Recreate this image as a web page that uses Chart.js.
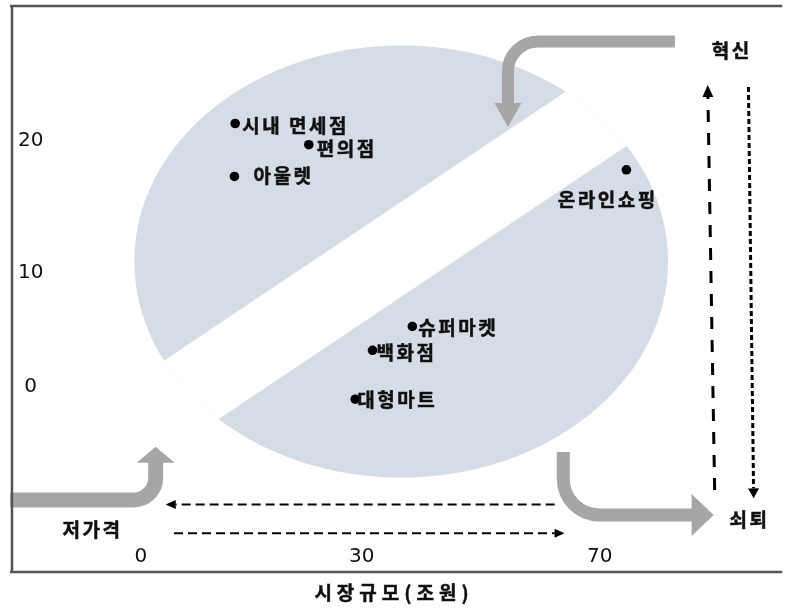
<!DOCTYPE html>
<html>
<head>
<meta charset="utf-8">
<script src="https://cdn.jsdelivr.net/npm/chart.js@4.4.1/dist/chart.umd.min.js"></script>
<style>
  html, body { margin: 0; padding: 0; background: #fff; }
  #wrap { width: 787px; height: 608px; }
</style>
</head>
<body>
<div id="wrap"><canvas id="chart"></canvas></div>
<script>
// retail channels: market size (조원) vs growth
const channels = ['시내 면세점', '편의점', '아울렛', '온라인쇼핑', '슈퍼마켓', '백화점', '대형마트'];
const marketSize = [12.8, 22.8, 12.7, 74.5, 38.5, 31.8, 29.1];
const growth = [21.3, 19.7, 17.3, 17.8, 5.3, 3.2, -1.1];

const xTickValues = [0, 30, 70];
const yTickValues = [0, 10, 20];
const xTitle = '시장규모(조원)';

// annotation shapes, in the same units as the axes
const zoneX = [-0.9, 81.5];
const zoneY = [-8.0, 27.2];
const cutUpper = [[3.05, 2.26], [64.27, 23.70]];
const cutLower = [[10.57, -2.84], [74.35, 19.55]];

const flowNew = [[82.65, 27.5], [54.57, 27.5], [54.57, 21.04]];
const flowLowPrice = [[-17.77, -9.96], [2.0, -9.96], [2.0, -5.28]];
const flowDecline = [[63.88, -5.74], [63.88, -11.28], [89.17, -11.28]];

const sizeShrink = [[62.43, -10.36], [3.37, -10.36]];
const sizeGrow = [[4.49, -12.89], [64.1, -12.89]];
const cycleUp = [[89.34, -9.09], [88.17, 24.21]];
const cycleDown = [[95.02, 24.06], [95.9, -9.82]];

const stageLabels = ['혁신', '쇠퇴', '저가격'];
const stageX = [92.0, 95.0, -6.75];
const stageY = [26.78, -11.72, -12.6];

// the axes of the original are not evenly spaced between ticks
const scaleStops = {
  x: { values: xTickValues, at: [0.1674, 0.4542, 0.7630] },
  y: { values: yTickValues, at: [0.3345, 0.5397, 0.7785] }
};

class PiecewiseScale extends Chart.LinearScale {
  static id = 'piecewise';
  toDecimal(v) {
    const { values, at } = scaleStops[this.id];
    let i = 0;
    while (i < values.length - 2 && v > values[i + 1]) i++;
    return at[i] + (v - values[i]) * (at[i + 1] - at[i]) / (values[i + 1] - values[i]);
  }
  fromDecimal(d) {
    const { values, at } = scaleStops[this.id];
    let i = 0;
    while (i < at.length - 2 && d > at[i + 1]) i++;
    return values[i] + (d - at[i]) * (values[i + 1] - values[i]) / (at[i + 1] - at[i]);
  }
  getPixelForValue(v) {
    return this.getPixelForDecimal(this.toDecimal(v));
  }
  getValueForPixel(p) {
    return this.fromDecimal(this.getDecimalForPixel(p));
  }
}
Chart.register(PiecewiseScale);

const KR = '"Noto Sans CJK KR", "Noto Sans", sans-serif';
const labelFont = 'bold 19px ' + KR;
const spacing = 2.5;

// where each name sits relative to its dot
const labelPlace = {
  '시내 면세점': [7, 2, 'left'],
  '편의점': [8, 4, 'left'],
  '아울렛': [19, -1, 'left'],
  '온라인쇼핑': [-20, 30, 'center'],
  '슈퍼마켓': [6, 1, 'left'],
  '백화점': [4, 2, 'left'],
  '대형마트': [2, 1, 'left']
};

function arrowHead(ctx, tip, from, len, wid) {
  const ang = Math.atan2(tip[1] - from[1], tip[0] - from[0]);
  ctx.save();
  ctx.translate(tip[0], tip[1]);
  ctx.rotate(ang);
  ctx.beginPath();
  ctx.moveTo(0, 0);
  ctx.lineTo(-len, -wid / 2);
  ctx.lineTo(-len, wid / 2);
  ctx.closePath();
  ctx.fill();
  ctx.restore();
}

function dashedArrow(ctx, a, b, width, dash, head, headWidth) {
  const dx = b[0] - a[0], dy = b[1] - a[1], L = Math.hypot(dx, dy);
  ctx.save();
  ctx.strokeStyle = '#000';
  ctx.fillStyle = '#000';
  ctx.lineWidth = width;
  ctx.setLineDash(dash);
  ctx.beginPath();
  ctx.moveTo(a[0], a[1]);
  ctx.lineTo(b[0] - dx / L * head, b[1] - dy / L * head);
  ctx.stroke();
  ctx.setLineDash([]);
  arrowHead(ctx, b, a, head, headWidth);
  ctx.restore();
}

function bentArrow(ctx, p0, corner, tip, width, radius, head, headWidth) {
  const dx = tip[0] - corner[0], dy = tip[1] - corner[1], L = Math.hypot(dx, dy);
  const base = [tip[0] - dx / L * (head - 1), tip[1] - dy / L * (head - 1)];
  ctx.save();
  ctx.strokeStyle = '#a6a6a6';
  ctx.fillStyle = '#a6a6a6';
  ctx.lineWidth = width;
  ctx.beginPath();
  ctx.moveTo(p0[0], p0[1]);
  ctx.arcTo(corner[0], corner[1], base[0], base[1], radius);
  ctx.lineTo(base[0], base[1]);
  ctx.stroke();
  arrowHead(ctx, tip, corner, head, headWidth);
  ctx.restore();
}

// bold text with extra tracking and a hairline stroke for weight
function spacedText(ctx, text, x, y, align, ls) {
  ctx.letterSpacing = ls + 'px';
  ctx.textAlign = align;
  const tx = align === 'center' ? x + ls / 2 : x;
  ctx.fillText(text, tx, y);
  ctx.lineWidth = 0.5;
  ctx.strokeStyle = ctx.fillStyle;
  ctx.strokeText(text, tx, y);
}

const decor = {
  id: 'decor',
  beforeDatasetsDraw(chart) {
    const ctx = chart.ctx;
    const sx = chart.scales.x, sy = chart.scales.y;
    const px = p => [sx.getPixelForValue(p[0]), sy.getPixelForValue(p[1])];

    // split zone
    const l = sx.getPixelForValue(zoneX[0]), r = sx.getPixelForValue(zoneX[1]);
    const t = sy.getPixelForValue(zoneY[1]), b = sy.getPixelForValue(zoneY[0]);
    ctx.save();
    ctx.beginPath();
    ctx.ellipse((l + r) / 2, (t + b) / 2, (r - l) / 2, (b - t) / 2, 0, 0, Math.PI * 2);
    ctx.fillStyle = '#d6dce5';
    ctx.fill();
    ctx.clip();
    const a1 = px(cutUpper[0]), a2 = px(cutUpper[1]);
    const c1 = px(cutLower[0]), c2 = px(cutLower[1]);
    const ext = (p, q, k) => [p[0] + (q[0] - p[0]) * k, p[1] + (q[1] - p[1]) * k];
    const band = [ext(a1, a2, -2), ext(a1, a2, 3), ext(c1, c2, 3), ext(c1, c2, -2)];
    ctx.globalCompositeOperation = 'destination-out';
    ctx.beginPath();
    band.forEach((p, i) => i ? ctx.lineTo(p[0], p[1]) : ctx.moveTo(p[0], p[1]));
    ctx.closePath();
    ctx.fill();
    ctx.restore();

    // gray flow arrows
    bentArrow(ctx, px(flowNew[0]), px(flowNew[1]), px(flowNew[2]), 12, 30, 24, 27);
    bentArrow(ctx, px(flowLowPrice[0]), px(flowLowPrice[1]), px(flowLowPrice[2]), 15, 22, 16, 38);
    bentArrow(ctx, px(flowDecline[0]), px(flowDecline[1]), px(flowDecline[2]), 13, 36, 22, 42);

    // dashed arrows
    dashedArrow(ctx, px(sizeShrink[0]), px(sizeShrink[1]), 2, [9, 5], 10, 9);
    dashedArrow(ctx, px(sizeGrow[0]), px(sizeGrow[1]), 2, [9, 5], 10, 9);
    dashedArrow(ctx, px(cycleUp[0]), px(cycleUp[1]), 3, [12, 11], 12, 11);
    dashedArrow(ctx, px(cycleDown[0]), px(cycleDown[1]), 3, [5, 3], 10, 11);

    // stage labels
    ctx.save();
    ctx.font = labelFont;
    ctx.fillStyle = '#111';
    ctx.textBaseline = 'middle';
    stageLabels.forEach((s, i) => {
      const p = px([stageX[i], stageY[i]]);
      spacedText(ctx, s, p[0], p[1], 'center', spacing);
    });
    ctx.restore();
  },
  afterDatasetsDraw(chart) {
    const ctx = chart.ctx;
    const pts = chart.getDatasetMeta(0).data;
    ctx.save();
    ctx.font = labelFont;
    ctx.fillStyle = '#111';
    ctx.textBaseline = 'middle';
    channels.forEach((name, i) => {
      const [dx, dy, align] = labelPlace[name];
      spacedText(ctx, name, pts[i].x + dx, pts[i].y + dy, align, spacing);
    });
    ctx.restore();
  },
  afterDraw(chart) {
    const ctx = chart.ctx;
    const a = chart.chartArea;
    ctx.save();
    ctx.strokeStyle = '#555';
    ctx.lineWidth = 2.5;
    ctx.beginPath();
    ctx.moveTo(a.left - 2, 6);
    ctx.lineTo(a.right, 6);
    ctx.moveTo(a.left, 5);
    ctx.lineTo(a.left, a.bottom + 1);
    ctx.moveTo(a.left - 2, a.bottom);
    ctx.lineTo(a.right, a.bottom);
    ctx.stroke();

    // axis title, drawn here for its wide letter spacing
    ctx.font = labelFont;
    ctx.fillStyle = '#111';
    ctx.textBaseline = 'middle';
    spacedText(ctx, xTitle, chart.width / 2 - 2, a.bottom + 21, 'center', 5);
    ctx.restore();
  }
};

const tickFont = { family: 'DejaVu Sans', size: 20, lineHeight: 1.2 };

new Chart(document.getElementById('chart'), {
  type: 'scatter',
  data: {
    datasets: [{
      data: channels.map((c, i) => ({ x: marketSize[i], y: growth[i] })),
      pointRadius: 4.8,
      pointHoverRadius: 4.8,
      pointBackgroundColor: '#000',
      pointBorderWidth: 0
    }]
  },
  options: {
    responsive: true,
    maintainAspectRatio: false,
    animation: false,
    layout: { padding: { left: 0, right: 0, top: 18, bottom: 29.4 } },
    plugins: {
      legend: { display: false },
      tooltip: { enabled: false }
    },
    scales: {
      x: {
        type: 'piecewise',
        position: 'bottom',
        min: -17.5,
        max: 100.7,
        afterBuildTicks: s => { s.ticks = xTickValues.map(v => ({ value: v })); },
        grid: { display: false, drawTicks: false },
        border: { display: false },
        ticks: {
          mirror: true,
          padding: 3.3,
          autoSkip: false,
          maxRotation: 0,
          color: '#111',
          font: tickFont,
          callback: v => String(v)
        }
      },
      y: {
        type: 'piecewise',
        position: 'left',
        min: -16.3,
        max: 29.3,
        afterBuildTicks: s => { s.ticks = yTickValues.map(v => ({ value: v })); },
        grid: { display: false, drawTicks: false },
        border: { display: false },
        ticks: {
          mirror: true,
          crossAlign: 'center',
          padding: 6,
          color: '#111',
          font: tickFont,
          callback: v => String(v)
        }
      }
    }
  },
  plugins: [decor]
});
</script>
</body>
</html>
